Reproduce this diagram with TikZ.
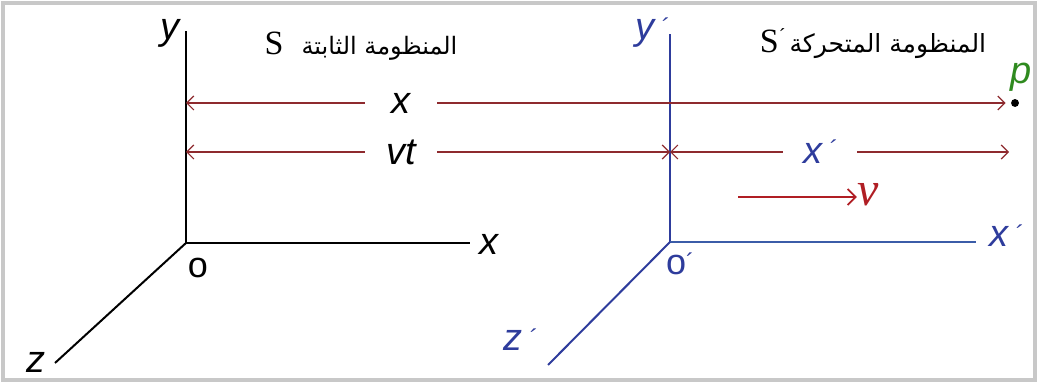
\documentclass[tikz,border=0pt]{standalone}
\usepackage{fontspec}
\setmainfont{Liberation Serif}
\newfontfamily\axisfont{Liberation Sans}
\newfontfamily\arabicfont[Script=Arabic]{DejaVu Sans}
\TeXXeTstate=1
\usetikzlibrary{arrows.meta}
\definecolor{Frame}{HTML}{C8C8C8}
\definecolor{DimRed}{HTML}{8E2A2E}
\definecolor{VelRed}{HTML}{B01E24}
\definecolor{Blue}{HTML}{2E3C9C}
\definecolor{LightBlue}{HTML}{3B5CA8}
\definecolor{Green}{HTML}{2F8A1F}

\begin{document}
\begin{tikzpicture}[
  x=0.5pt,y=-0.5pt,
  axis/.style={line width=1pt,draw=black},
  axisp/.style={line width=1pt,draw=Blue},
  lbl/.style={font=\axisfont\itshape\fontsize{19}{19}\selectfont,inner sep=0pt},
  lblup/.style={font=\axisfont\fontsize{18}{18}\selectfont,inner sep=0pt},
  title/.style={font=\fontsize{17}{18}\selectfont,inner sep=0pt},
  gap/.style={lbl,minimum width=36pt,minimum height=12pt},
  dim/.style={-{Straight Barb[length=3.5pt,width=7pt]},line width=0.6pt,draw=DimRed},
  vel/.style={-{Straight Barb[length=4pt,width=8pt]},line width=0.9pt,draw=VelRed}
]
\useasboundingbox (0,0) rectangle (1038,383);
\draw[draw=Frame,line width=2pt] (3,3) rectangle (1035,380);
% fixed frame S
\coordinate (O) at (186,243);
\coordinate (Yend) at (186,31);
\coordinate (Xend) at (470,243);
\coordinate (Zend) at (55,363);
\draw[axis] (O) -- (Yend);
\draw[axis] (O) -- (Xend);
\draw[axis] (O) -- (Zend);
\node[lbl] (ylab) at (170,33) {y};
\node[lbl] (xlab) at (489,244) {x};
\node[lbl] (zlab) at (36,362) {z};
\node[lblup] (olab) at (198,268) {o};
\node[title] (tS) at (361,46) {S\hspace{9pt}{\arabicfont\fontsize{12}{12}\selectfont\beginR المنظومة الثابتة\endR}};
% moving frame S'
\coordinate (Op) at (670,242);
\coordinate (Ypend) at (670,34);
\coordinate (Xpend) at (976,242);
\coordinate (Zpend) at (548,365);
\draw[axisp] (Op) -- (Ypend);
\draw[axisp,draw=LightBlue] (Op) -- (Xpend);
\draw[axisp] (Op) -- (Zpend);
\node[lbl,text=Blue] (yplab) at (652,33) {y\,\raisebox{2pt}{\fontsize{12}{12}\selectfont ´}};
\node[lbl,text=Blue] (xplab) at (1006,236) {x\,\raisebox{2pt}{\fontsize{12}{12}\selectfont ´}};
\node[lbl,text=Blue] (zplab) at (520,340) {z\,\raisebox{2pt}{\fontsize{12}{12}\selectfont ´}};
\node[lblup,text=Blue] (oplab) at (680,264) {o\raisebox{2pt}{\fontsize{12}{12}\selectfont ´}};
\node[title] (tSp) at (873,44) {S\raisebox{5pt}{\fontsize{10}{10}\selectfont ´}\hspace{2pt}{\arabicfont\fontsize{12.5}{13}\selectfont\beginR المنظومة المتحركة\endR}};
% point p
\node[circle,fill=black,inner sep=1.4pt] (pt) at (1015,103) {};
\node[lbl,text=Green] (plab) at (1021,77) {p};
% distances
\coordinate (Sx) at (186,103);
\coordinate (Svt) at (186,152);
\coordinate (cross) at (670,152);
\coordinate (Exp) at (1009,152);
\node[gap] (dx) at (401,103) {x};
\node[gap] (dvt) at (401,152) {vt};
\node[gap,text=Blue,minimum width=37pt] (dxp) at (820,152) {x\,\raisebox{3pt}{\fontsize{12}{12}\selectfont ´}};
\draw[dim] (dx) -- (Sx);
\draw[dim,shorten >=2.5pt] (dx) -- (pt);
\draw[dim] (dvt) -- (Svt);
\draw[dim] (dvt) -- (cross);
\draw[dim] (dxp) -- (cross);
\draw[dim] (dxp) -- (Exp);
% velocity
\coordinate (Vs) at (738,197);
\node[font=\itshape\fontsize{24}{24}\selectfont,text=VelRed,inner sep=0pt] (vlab) at (868,195) {v};
\draw[vel] (Vs) -- (Vs -| vlab.west);
\end{tikzpicture}
\end{document}
